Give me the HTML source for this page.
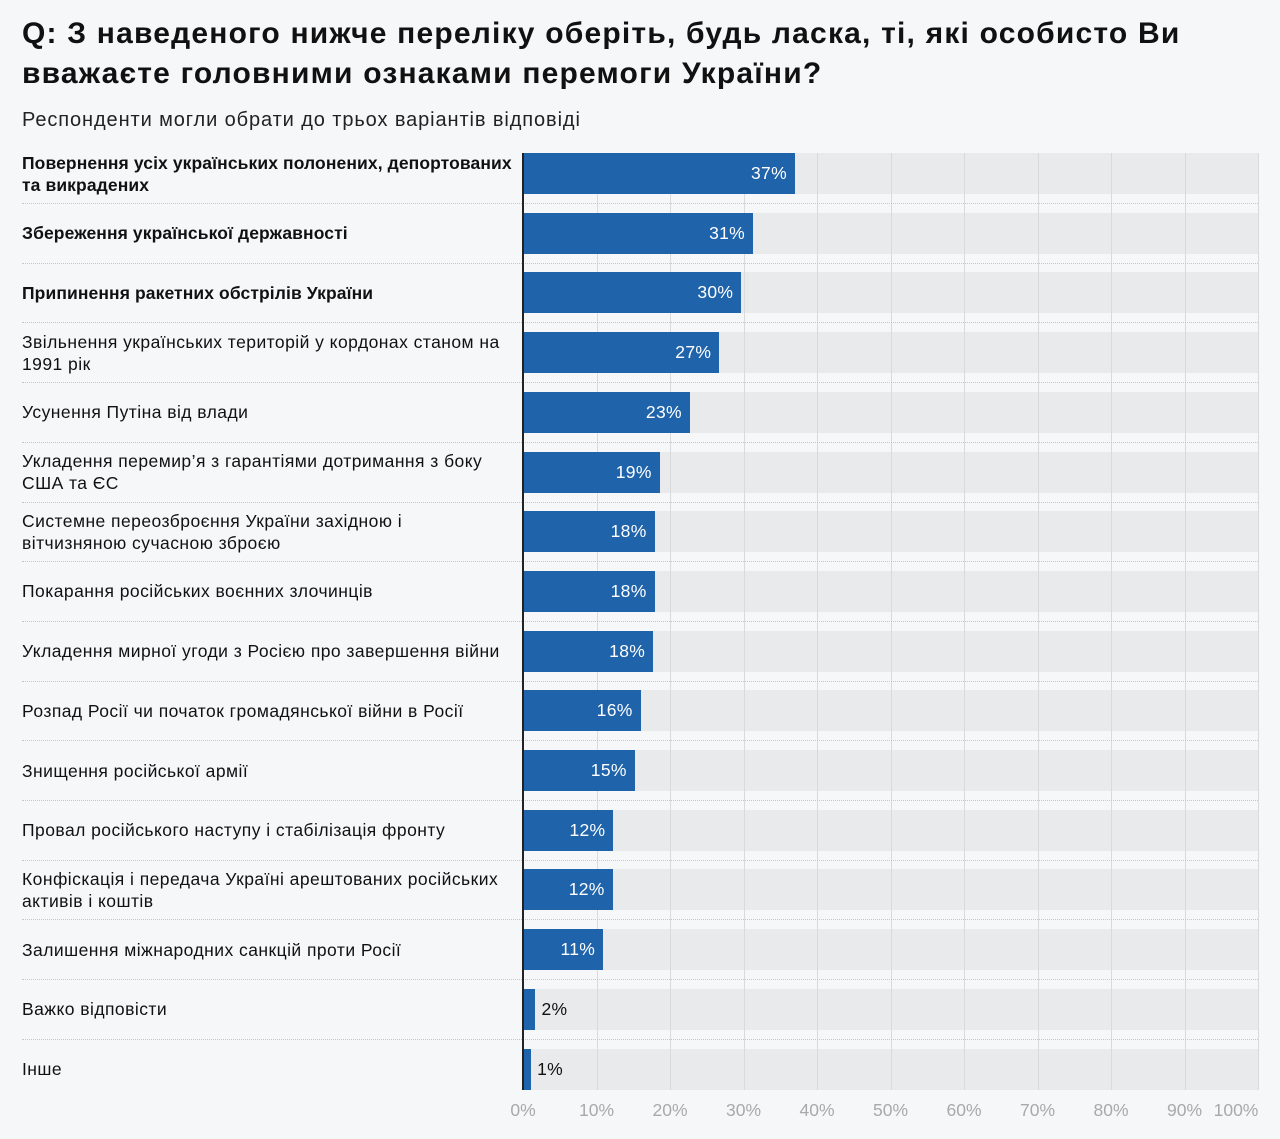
<!DOCTYPE html>
<html><head><meta charset="utf-8"><style>
body{margin:0;width:1280px;height:1139px;background:#f6f7f9;font-family:"Liberation Sans","DejaVu Sans",sans-serif;position:relative;overflow:hidden;color:#111}
.t{position:absolute;left:22px;top:14px;font-size:30px;font-weight:bold;line-height:40px;color:#111;letter-spacing:1.2px;white-space:nowrap}
.s{position:absolute;left:22px;top:109px;font-size:20px;color:#222;letter-spacing:0.9px}
.bg{position:absolute;left:523px;width:735px;height:41px;background:#e9eaec}
.g{position:absolute;top:153px;height:937px;width:1px;background:#d9dadc}
.b{position:absolute;left:523px;height:41px;background:#1f63ab}
.v{position:absolute;font-size:17.5px;line-height:41px;color:#fff;text-align:right;letter-spacing:0.3px}
.vo{color:#111}
.l{position:absolute;left:22px;width:500px;font-size:17.5px;line-height:22px;display:flex;align-items:center;height:41px;letter-spacing:0.45px;white-space:nowrap}
.l b{letter-spacing:0.1px}
.sep{position:absolute;left:22px;width:1236px;border-top:1px dotted #c4c6ca}
.ax{position:absolute;left:522px;top:153px;width:2px;height:937px;background:#222}
.tk{position:absolute;top:1100px;font-size:17.5px;color:#a8a9ab;width:60px;text-align:center}
</style></head><body>
<div class="t">Q: З наведеного нижче переліку оберіть, будь ласка, ті, які особисто Ви<br>вважаєте головними ознаками перемоги України?</div>
<div class="s">Респонденти могли обрати до трьох варіантів відповіді</div>
<div id="c"></div>
<script>
const d=[["<b>Повернення усіх українських полонених, депортованих<br>та викрадених</b>",37,37],["<b>Збереження української державності</b>",31,31.3],["<b>Припинення ракетних обстрілів України</b>",30,29.7],["Звільнення українських територій у кордонах станом на<br>1991 рік",27,26.7],["Усунення Путіна від влади",23,22.7],["Укладення перемир’я з гарантіями дотримання з боку<br>США та ЄС",19,18.6],["Системне переозброєння України західною і<br>вітчизняною сучасною зброєю",18,17.9],["Покарання російських воєнних злочинців",18,17.9],["Укладення мирної угоди з Росією про завершення війни",18,17.7],["Розпад Росії чи початок громадянської війни в Росії",16,16],["Знищення російської армії",15,15.2],["Провал російського наступу і стабілізація фронту",12,12.3],["Конфіскація і передача Україні арештованих російських<br>активів і коштів",12,12.2],["Залишення міжнародних санкцій проти Росії",11,10.9],["Важко відповісти",2,1.7],["Інше",1,1.1]];
let h="";
d.forEach((r,i)=>{const y=153+i*59.7;h+=`<div class="bg" style="top:${y}px"></div>`;});
for(let k=1;k<=10;k++){h+=`<div class="g" style="left:${523+k*73.5}px"></div>`;}
d.forEach((r,i)=>{const y=153+i*59.7;const w=r[2]*7.35;
h+=`<div class="b" style="top:${y}px;width:${w}px"></div>`;
if(r[1]>5)h+=`<div class="v" style="top:${y}px;left:${523}px;width:${w-8}px">${r[1]}%</div>`;
else h+=`<div class="v vo" style="top:${y}px;left:${523+w+6}px;text-align:left">${r[1]}%</div>`;
h+=`<div class="l" style="top:${y}px"><div>${r[0]}</div></div>`;
if(i<15)h+=`<div class="sep" style="top:${y+50}px"></div>`;});
h+=`<div class="ax"></div>`;
for(let k=0;k<=10;k++){let x=523+k*73.5-30;if(k==10)x-=22;h+=`<div class="tk" style="left:${x}px">${k*10}%</div>`;}
document.getElementById("c").innerHTML=h;
</script>
</body></html>
